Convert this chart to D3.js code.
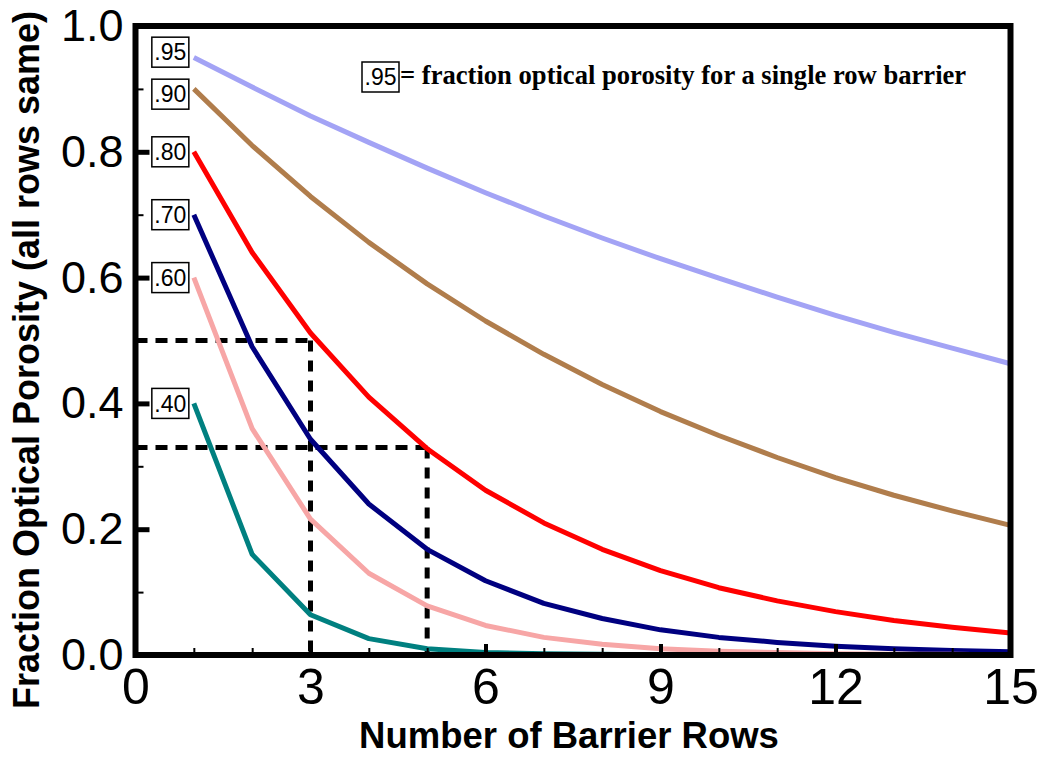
<!DOCTYPE html>
<html>
<head>
<meta charset="utf-8">
<script src="https://cdn.jsdelivr.net/npm/d3@7"></script>
<style>
  html, body { margin: 0; padding: 0; background: #fff; }
  svg { display: block; }
</style>
</head>
<body>
<svg id="chart" width="1042" height="757"></svg>
<script>
// --- Data ---
const ROWS = [1, 2, 3, 4, 5, 6, 7, 8, 9, 10, 11, 12, 13, 14, 15];

const LABELS = [".95", ".90", ".80", ".70", ".60", ".40"];
const COLORS = ["#a3a3f5", "#b07d4c", "#ff0000", "#000080", "#f7a6a6", "#008080"];

const P95 = [0.95, 0.903, 0.857, 0.815, 0.774, 0.735, 0.698, 0.663, 0.630, 0.599, 0.569, 0.540, 0.513, 0.488, 0.463];
const P90 = [0.90, 0.81, 0.729, 0.656, 0.590, 0.531, 0.478, 0.430, 0.387, 0.349, 0.314, 0.282, 0.254, 0.229, 0.206];
const P80 = [0.80, 0.64, 0.512, 0.410, 0.328, 0.262, 0.210, 0.168, 0.134, 0.107, 0.086, 0.069, 0.055, 0.044, 0.035];
const P70 = [0.70, 0.49, 0.343, 0.240, 0.168, 0.118, 0.082, 0.058, 0.040, 0.028, 0.020, 0.014, 0.010, 0.007, 0.005];
const P60 = [0.60, 0.36, 0.216, 0.130, 0.078, 0.047, 0.028, 0.017, 0.010, 0.006, 0.004, 0.002, 0.001, 0.001, 0.000];
const P40 = [0.40, 0.16, 0.064, 0.026, 0.010, 0.004, 0.002, 0.001, 0.000, 0.000, 0.000, 0.000, 0.000, 0.000, 0.000];
const SERIES = [P95, P90, P80, P70, P60, P40];

// guide lines: [rows, porosity]
const GUIDE_ROWS = [3, 5];
const GUIDE_VALUES = [0.5, 0.33];

const X_MAJOR = [0, 3, 6, 9, 12, 15];
const Y_MAJOR = [0, 0.2, 0.4, 0.6, 0.8, 1.0];

const LEGEND_TEXT = "= fraction optical porosity for a single row barrier";

// --- Setup ---
const svg = d3.select("#chart");
const pLeft = 135.5, pRight = 1010.5, pTop = 26, pBottom = 655;

const x = d3.scaleLinear().domain([0, 15]).range([pLeft, pRight]);
const y = d3.scaleLinear().domain([0, 1]).range([pBottom, pTop]);

svg.append("rect").attr("width", 1042).attr("height", 757).attr("fill", "#fff");

// --- Dashed guides ---
GUIDE_ROWS.forEach((r, i) => {
  const v = GUIDE_VALUES[i];
  svg.append("path")
    .attr("d", `M ${x(0)} ${y(v)} L ${x(r)} ${y(v)}`)
    .attr("fill", "none").attr("stroke", "#000")
    .attr("stroke-width", 5).attr("stroke-dasharray", "12,8");
  svg.append("path")
    .attr("d", `M ${x(r)} ${y(v)} L ${x(r)} ${y(0)}`)
    .attr("fill", "none").attr("stroke", "#000")
    .attr("stroke-width", 5).attr("stroke-dasharray", "11,9");
});

// --- Curves ---
const line = d3.line().x((d, i) => x(ROWS[i])).y(d => y(d));

svg.selectAll("path.curve")
  .data(SERIES).join("path")
  .attr("class", "curve")
  .attr("d", line)
  .attr("fill", "none")
  .attr("stroke", (d, i) => COLORS[i])
  .attr("stroke-width", 5)
  .attr("stroke-linejoin", "round");

// --- Labels at line starts (spread apart where they collide) ---
const labelPos = SERIES.map(s => y(s[0]));
const minGap = 42;
for (let i = 1; i < labelPos.length; i++) {
  const gap = labelPos[i] - labelPos[i - 1];
  if (gap < minGap) {
    const mid = (labelPos[i] + labelPos[i - 1]) / 2;
    labelPos[i - 1] = mid - minGap / 2;
    labelPos[i] = mid + minGap / 2;
  }
}

const boxW = 37, boxH = 30;
const gLab = svg.append("g");
LABELS.forEach((lab, i) => {
  const bx = x(ROWS[0]) - 5 - boxW;
  const cy = labelPos[i];
  gLab.append("rect")
    .attr("x", bx).attr("y", cy - boxH / 2)
    .attr("width", boxW).attr("height", boxH)
    .attr("fill", "#fff").attr("stroke", "#000").attr("stroke-width", 1.5);
  gLab.append("text")
    .attr("x", bx + boxW / 2).attr("y", cy).attr("dy", "0.36em")
    .attr("text-anchor", "middle")
    .attr("font-family", "Liberation Sans, Arial, sans-serif")
    .attr("font-size", 23)
    .text(lab);
});

// --- Legend note ---
const gLeg = svg.append("g");
gLeg.append("rect")
  .attr("x", 362).attr("y", 62).attr("width", 37).attr("height", 30)
  .attr("fill", "#fff").attr("stroke", "#000").attr("stroke-width", 1.5);
gLeg.append("text")
  .attr("x", 380.5).attr("y", 77).attr("dy", "0.36em")
  .attr("text-anchor", "middle")
  .attr("font-family", "Liberation Sans, Arial, sans-serif")
  .attr("font-size", 23)
  .text(LABELS[0]);
gLeg.append("text")
  .attr("x", 400).attr("y", 84)
  .attr("font-family", "Liberation Serif, Times New Roman, serif")
  .attr("font-weight", "bold")
  .attr("font-size", 26.6)
  .text(LEGEND_TEXT);

// --- Axes ---
const yMinor = svg.append("g").attr("transform", `translate(${pLeft},0)`)
  .call(d3.axisLeft(y).ticks(10).tickSizeInner(-8).tickSizeOuter(0).tickFormat(""));
yMinor.select(".domain").remove();
yMinor.selectAll("line").attr("stroke-width", 2);

const yAxis = svg.append("g").attr("transform", `translate(${pLeft},0)`)
  .call(d3.axisLeft(y).tickValues(Y_MAJOR).tickSizeInner(-14).tickSizeOuter(0)
    .tickPadding(12).tickFormat(d3.format(".1f")));
yAxis.select(".domain").remove();
yAxis.selectAll("line").attr("stroke-width", 5);
yAxis.selectAll("text")
  .attr("font-family", "Liberation Sans, Arial, sans-serif")
  .attr("font-size", 45).attr("fill", "#000");

const xMinor = svg.append("g").attr("transform", `translate(0,${pBottom})`)
  .call(d3.axisBottom(x).tickValues(ROWS).tickSizeInner(-7).tickSizeOuter(0).tickFormat(""));
xMinor.select(".domain").remove();
xMinor.selectAll("line").attr("stroke-width", 2);

const xAxis = svg.append("g").attr("transform", `translate(0,${pBottom})`)
  .call(d3.axisBottom(x).tickValues(X_MAJOR).tickSizeInner(-11).tickSizeOuter(0)
    .tickPadding(13).tickFormat(d3.format("d")));
xAxis.select(".domain").remove();
xAxis.selectAll("line").attr("stroke-width", 4);
xAxis.selectAll("text")
  .attr("font-family", "Liberation Sans, Arial, sans-serif")
  .attr("font-size", 50).attr("fill", "#000");

// --- Frame ---
svg.append("rect")
  .attr("x", pLeft).attr("y", pTop)
  .attr("width", pRight - pLeft).attr("height", pBottom - pTop)
  .attr("fill", "none").attr("stroke", "#000").attr("stroke-width", 6);

// --- Axis titles ---
svg.append("text")
  .attr("x", (pLeft + pRight) / 2 - 4).attr("y", 748)
  .attr("text-anchor", "middle")
  .attr("font-family", "Liberation Sans, Arial, sans-serif")
  .attr("font-weight", "bold").attr("font-size", 36.5)
  .text("Number of Barrier Rows");

svg.append("text")
  .attr("transform", "translate(39,360) rotate(-90)")
  .attr("text-anchor", "middle")
  .attr("font-family", "Liberation Sans, Arial, sans-serif")
  .attr("font-weight", "bold").attr("font-size", 36)
  .text("Fraction Optical Porosity (all rows same)");
</script>
</body>
</html>
